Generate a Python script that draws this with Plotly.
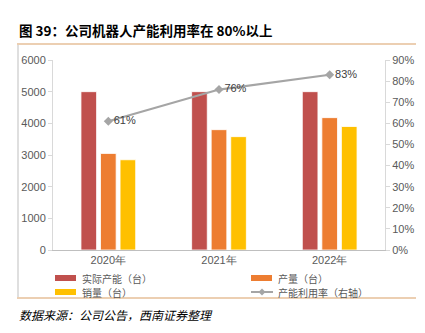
import plotly.graph_objects as go

years = ["2020年", "2021年", "2022年"]
capacity = [5000, 5000, 5000]        # 实际产能（台）
output = [3050, 3800, 4180]          # 产量（台）
sales = [2850, 3580, 3900]           # 销量（台）
utilization = [61, 76, 83]           # 产能利用率（%，右轴）

names = ["实际产能（台）", "产量（台）", "销量（台）", "产能利用率（右轴）"]
colors = ["#C0504D", "#ED7D31", "#FFC000", "#A5A5A5"]

W, H = 425, 333
L, R, T, B = 53, 40, 60, 83
pw, ph = W - L - R, H - T - B
FONT = "Noto Sans CJK SC, Liberation Sans, Arial, sans-serif"


def px(x):
    return (x - L) / pw


def py(y):
    return (H - B - y) / ph


fig = go.Figure()
for vals, name, col in zip([capacity, output, sales], names[:3], colors[:3]):
    fig.add_trace(go.Bar(x=years, y=vals, name=name, marker_color=col,
                         marker_line_color="white", marker_line_width=0.8,
                         showlegend=False))

fig.add_trace(go.Scatter(
    x=years, y=utilization, name=names[3], yaxis="y2", mode="lines+markers+text",
    line=dict(color=colors[3], width=2.2),
    marker=dict(symbol="diamond", size=7, color=colors[3]),
    text=[f"{v}%" for v in utilization], textposition="middle right",
    textfont=dict(size=11, color="#404040", family="Liberation Sans, Arial"),
    showlegend=False, cliponaxis=False))

axis_font = dict(size=11, color="#595959", family="Liberation Sans, Arial")
fig.update_layout(
    width=W, height=H, margin=dict(l=L, r=R, t=T, b=B),
    paper_bgcolor="white", plot_bgcolor="white",
    barmode="group", bargap=0.47, bargroupgap=0.2,
    font=dict(family=FONT),
    xaxis=dict(showline=True, linecolor="#BFBFBF", linewidth=1, ticks="",
               tickfont=axis_font, showgrid=False),
    yaxis=dict(range=[0, 6000], dtick=1000, showline=True, linecolor="#D9D9D9",
               linewidth=1, ticks="outside", ticklen=4, tickcolor="#D9D9D9",
               showgrid=False, zeroline=False, tickfont=axis_font),
    yaxis2=dict(range=[0, 90], dtick=10, overlaying="y", side="right",
                ticksuffix="%", showline=True, linecolor="#D9D9D9", linewidth=1,
                ticks="outside", ticklen=4, tickcolor="#D9D9D9", showgrid=False,
                zeroline=False, tickfont=axis_font),
)

shapes = []
annos = []
# frame lines
shapes.append(dict(type="line", xref="paper", yref="paper", x0=px(17), x1=px(416),
                   y0=py(44), y1=py(44), line=dict(color="#D9A066", width=1.2)))
shapes.append(dict(type="line", xref="paper", yref="paper", x0=px(17), x1=px(416),
                   y0=py(298), y1=py(298), line=dict(color="#D9A066", width=1.2)))
shapes.append(dict(type="line", xref="paper", yref="paper", x0=px(18), x1=px(18),
                   y0=py(45), y1=py(297), line=dict(color="#BFBFBF", width=1)))

# legend
leg = [(55, 278, 0), (251, 278, 1), (55, 292, 2), (251, 292, 3)]
for x0, yc, i in leg:
    if i < 3:
        shapes.append(dict(type="rect", xref="paper", yref="paper", x0=px(x0), x1=px(x0 + 21),
                           y0=py(yc - 3), y1=py(yc + 3), fillcolor=colors[i], line_width=0))
    else:
        shapes.append(dict(type="line", xref="paper", yref="paper", x0=px(x0), x1=px(x0 + 22),
                           y0=py(yc), y1=py(yc), line=dict(color=colors[i], width=2)))
        shapes.append(dict(type="path", xref="paper", yref="paper",
                           path=f"M {px(x0+11)} {py(yc-3.5)} L {px(x0+14.5)} {py(yc)} "
                                f"L {px(x0+11)} {py(yc+3.5)} L {px(x0+7.5)} {py(yc)} Z",
                           fillcolor=colors[i], line_width=0))
    annos.append(dict(xref="paper", yref="paper", x=px(x0 + 25), y=py(yc), text=names[i],
                      showarrow=False, xanchor="left", yanchor="middle",
                      font=dict(size=10, color="#595959", family=FONT)))

annos.append(dict(xref="paper", yref="paper", x=px(17), y=py(30),
                  text="<b>图 39：公司机器人产能利用率在 80%以上</b>", showarrow=False,
                  xanchor="left", yanchor="middle",
                  font=dict(size=13.5, color="#000000", family=FONT)))
annos.append(dict(xref="paper", yref="paper", x=px(17), y=py(314),
                  text="<i>数据来源：公司公告，西南证券整理</i>", showarrow=False,
                  xanchor="left", yanchor="middle",
                  font=dict(size=12, color="#000000", family=FONT)))

fig.update_layout(shapes=shapes, annotations=annos)
fig.write_html("out.html")
